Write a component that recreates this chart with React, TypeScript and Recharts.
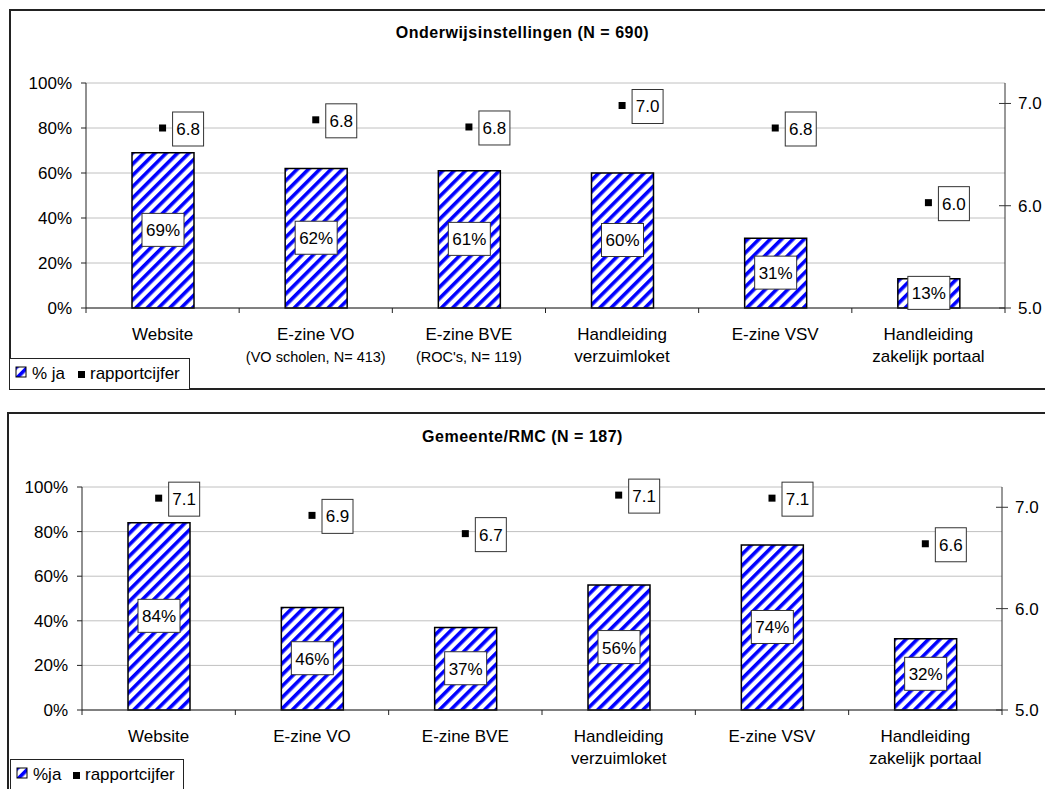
import React from "react";
import { ComposedChart, Bar, Scatter, XAxis, YAxis, CartesianGrid, LabelList } from "recharts";

const categories = [
  "Website",
  "E-zine VO",
  "E-zine BVE",
  "Handleiding verzuimloket",
  "E-zine VSV",
  "Handleiding zakelijk portaal",
];

const onderwijsTickLines = [
  ["Website"],
  ["E-zine VO", "(VO scholen, N= 413)"],
  ["E-zine BVE", "(ROC's, N= 119)"],
  ["Handleiding", "verzuimloket"],
  ["E-zine VSV"],
  ["Handleiding", "zakelijk portaal"],
];

const gemeenteTickLines = [
  ["Website"],
  ["E-zine VO"],
  ["E-zine BVE"],
  ["Handleiding", "verzuimloket"],
  ["E-zine VSV"],
  ["Handleiding", "zakelijk portaal"],
];

const onderwijsJa = [69, 62, 61, 60, 31, 13];
const onderwijsCijfer = [6.76, 6.84, 6.77, 6.98, 6.76, 6.03];

const gemeenteJa = [84, 46, 37, 56, 74, 32];
const gemeenteCijfer = [7.09, 6.92, 6.74, 7.12, 7.09, 6.64];

const pctTicks = [0, 20, 40, 60, 80, 100];
const cijferTicks = [5, 6, 7];
const cijferDomain = [5, 7.2];

const FONT = "Arial, 'Liberation Sans', sans-serif";
const FS = 17;

const Stripes = ({ id }: { id: string }) => (
  <pattern id={id} width="8" height="8" patternUnits="userSpaceOnUse" patternTransform="rotate(45)">
    <rect width="8" height="8" fill="#ffffff" />
    <rect width="3.6" height="8" fill="#0000ff" />
  </pattern>
);

const CategoryTick = (props: any) => {
  const { x, y, payload, lines, bandWidth } = props;
  const idx = categories.indexOf(payload.value);
  const rows: string[] = lines[idx] || [payload.value];
  return (
    <g>
      {idx === 0 && <line x1={x - bandWidth / 2} x2={x - bandWidth / 2} y1={y} y2={y + 5} stroke="#222" />}
      <line x1={x + bandWidth / 2} x2={x + bandWidth / 2} y1={y} y2={y + 5} stroke="#222" />
      {rows.map((r, i) => (
        <text
          key={i}
          x={x}
          y={y + 32 + i * 22}
          textAnchor="middle"
          fontSize={r.startsWith("(") ? 14.5 : FS}
          fontFamily={FONT}
          fill="#000"
        >
          {r}
        </text>
      ))}
    </g>
  );
};

const CijferTick = (props: any) => {
  const { x, y, payload } = props;
  return (
    <g>
      <line x1={x - 6} x2={x + 6} y1={y} y2={y} stroke="#333" />
      <text x={x + 13} y={y} dy="0.35em" fontSize={FS} fontFamily={FONT} fill="#000">
        {Number(payload.value).toFixed(1)}
      </text>
    </g>
  );
};

const BarValueLabel = (props: any) => {
  const { x, y, width, height, value } = props;
  const cx = x + width / 2;
  const cy = y + height / 2;
  return (
    <g>
      <rect x={cx - 21} y={cy - 17} width={42} height={33} fill="#fff" stroke="#333" />
      <text x={cx} y={cy} dy="0.35em" textAnchor="middle" fontSize={FS} fontFamily={FONT} fill="#000">
        {value}%
      </text>
    </g>
  );
};

const CijferMark = (props: any) => {
  const { cx, cy, payload } = props;
  return (
    <g>
      <rect x={cx - 3.5} y={cy - 3.5} width={7} height={7} fill="#000" />
      <rect x={cx + 10} y={cy - 16} width={31} height={34} fill="#fff" stroke="#333" />
      <text x={cx + 25.5} y={cy + 1} dy="0.35em" textAnchor="middle" fontSize={FS} fontFamily={FONT} fill="#000">
        {payload.cijfer.toFixed(1)}
      </text>
    </g>
  );
};

const LegendBox = ({ left, top, width, label, patternId }: any) => (
  <div
    style={{
      position: "absolute",
      left,
      top,
      width,
      height: 32,
      boxSizing: "border-box",
      border: "1px solid #222",
      background: "#fff",
      fontFamily: FONT,
      fontSize: FS,
      color: "#000",
    }}
  >
    <svg width={14} height={14} style={{ position: "absolute", left: 5, top: 7 }}>
      <defs>
        <Stripes id={patternId} />
      </defs>
      <rect x={1} y={1} width={10} height={10} fill={`url(#${patternId})`} stroke="#000" />
    </svg>
    <span style={{ position: "absolute", left: 22, top: 5 }}>{label}</span>
    <span
      style={{ position: "absolute", left: label.length > 3 ? 68 : 62, top: 12, width: 7, height: 7, background: "#000" }}
    />
    <span style={{ position: "absolute", left: label.length > 3 ? 80 : 74, top: 5 }}>rapportcijfer</span>
  </div>
);

const Panel = ({ cfg }: any) => {
  const data = categories.map((name, i) => ({ name, ja: cfg.ja[i], cijfer: cfg.cijfer[i] }));
  const plotW = 1045 - cfg.leftW - cfg.rightW;
  const bandWidth = plotW / categories.length;
  return (
    <>
      <div
        style={{
          position: "absolute",
          left: cfg.frameLeft,
          top: cfg.frameTop,
          width: 1200,
          height: cfg.frameHeight,
          border: "2px solid #222",
          boxSizing: "border-box",
          background: "#fff",
        }}
      />
      <div
        style={{
          position: "absolute",
          left: 0,
          top: cfg.frameTop + cfg.titleOffset,
          width: 1045,
          textAlign: "center",
          fontFamily: FONT,
          fontWeight: "bold",
          fontSize: 16,
          letterSpacing: 0.5,
          lineHeight: "18px",
          color: "#000",
        }}
      >
        {cfg.title}
      </div>
      <div style={{ position: "absolute", left: 0, top: cfg.chartTop }}>
        <ComposedChart
          width={1045}
          height={cfg.chartHeight}
          data={data}
          margin={{ top: cfg.marginTop, right: 0, bottom: 0, left: 0 }}
          barCategoryGap={0}
        >
          <defs>
            <Stripes id={cfg.patternId} />
          </defs>
          <CartesianGrid yAxisId="left" vertical={false} stroke="#c0c0c0" />
          <XAxis
            dataKey="name"
            height={cfg.xAxisH}
            interval={0}
            tickSize={0}
            tickMargin={0}
            tickLine={false}
            axisLine={{ stroke: "#222" }}
            tick={(p: any) => <CategoryTick {...p} lines={cfg.tickLines} bandWidth={bandWidth} />}
          />
          <YAxis
            yAxisId="left"
            orientation="left"
            width={cfg.leftW}
            domain={[0, 100]}
            ticks={pctTicks}
            interval={0}
            tickFormatter={(v: number) => `${v}%`}
            tickSize={5}
            tickMargin={9}
            tick={{ fill: "#000", fontSize: FS, fontFamily: FONT }}
            tickLine={{ stroke: "#222" }}
            axisLine={{ stroke: "#222" }}
          />
          <YAxis
            yAxisId="right"
            orientation="right"
            width={cfg.rightW}
            domain={cijferDomain}
            ticks={cijferTicks}
            interval={0}
            tickSize={0}
            tickMargin={0}
            tickLine={false}
            tick={(p: any) => <CijferTick {...p} />}
            axisLine={{ stroke: "#333" }}
          />
          <Bar
            yAxisId="left"
            dataKey="ja"
            barSize={62}
            fill={`url(#${cfg.patternId})`}
            stroke="#000"
            strokeWidth={1.5}
            isAnimationActive={false}
          >
            <LabelList dataKey="ja" content={(p: any) => <BarValueLabel {...p} />} />
          </Bar>
          <Scatter
            yAxisId="right"
            dataKey="cijfer"
            isAnimationActive={false}
            shape={(p: any) => <CijferMark {...p} />}
          />
        </ComposedChart>
      </div>
      <LegendBox
        left={cfg.legendLeft}
        top={cfg.legendTop}
        width={cfg.legendW}
        label={cfg.legendLabel}
        patternId={cfg.patternId + "-legend"}
      />
    </>
  );
};

const onderwijsCfg = {
  title: "Onderwijsinstellingen (N = 690)",
  ja: onderwijsJa,
  cijfer: onderwijsCijfer,
  tickLines: onderwijsTickLines,
  patternId: "stripes-onderwijs",
  frameLeft: 9,
  frameTop: 9,
  frameHeight: 381,
  titleOffset: 15,
  chartTop: 0,
  chartHeight: 388,
  marginTop: 83,
  leftW: 86,
  rightW: 40,
  xAxisH: 80,
  legendLeft: 9,
  legendTop: 358,
  legendW: 181,
  legendLabel: "% ja",
};

const gemeenteCfg = {
  title: "Gemeente/RMC (N = 187)",
  ja: gemeenteJa,
  cijfer: gemeenteCijfer,
  tickLines: gemeenteTickLines,
  patternId: "stripes-gemeente",
  frameLeft: 7,
  frameTop: 412,
  frameHeight: 420,
  titleOffset: 16,
  chartTop: 400,
  chartHeight: 389,
  marginTop: 87,
  leftW: 82,
  rightW: 43,
  xAxisH: 79,
  legendLeft: 10,
  legendTop: 759,
  legendW: 174,
  legendLabel: "%ja",
};

export default function App() {
  return (
    <div
      style={{
        position: "absolute",
        left: 0,
        top: 0,
        width: 1045,
        height: 789,
        overflow: "hidden",
        background: "#fff",
      }}
    >
      <Panel cfg={onderwijsCfg} />
      <Panel cfg={gemeenteCfg} />
    </div>
  );
}
